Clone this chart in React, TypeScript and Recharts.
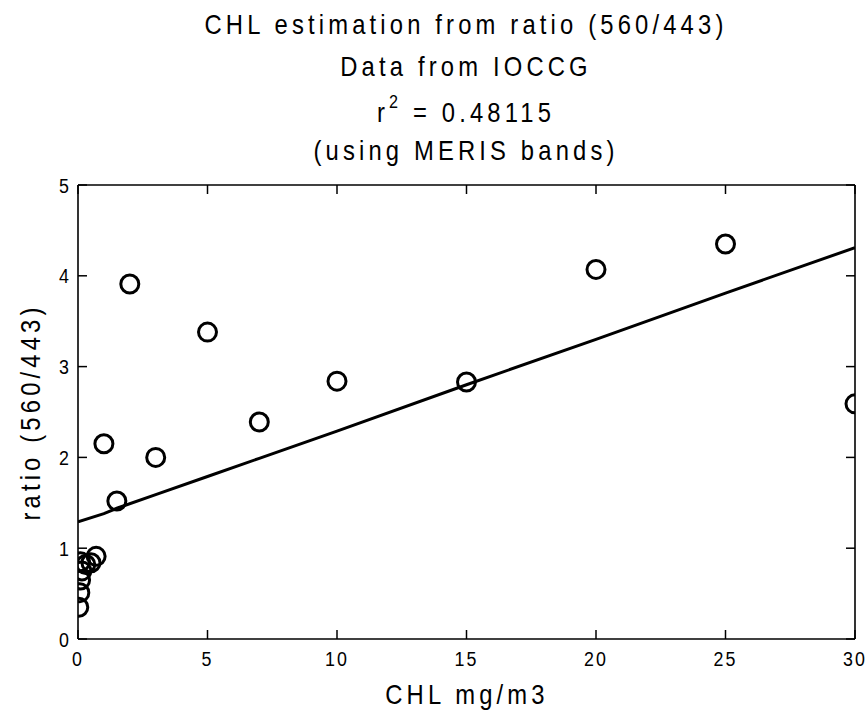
import React from "react";
import { ScatterChart, Scatter, XAxis, YAxis } from "recharts";

// measured samples (CHL mg/m3 vs ratio 560/443)
const chlValues = [0.03, 0.07, 0.1, 0.15, 0.1, 0.3, 0.5, 0.7, 1, 1.5, 2, 3, 5, 7, 10, 15, 20, 25, 30];
const ratioValues = [0.35, 0.51, 0.65, 0.75, 0.85, 0.82, 0.84, 0.91, 2.15, 1.52, 3.91, 2.0, 3.38, 2.39, 2.84, 2.83, 4.07, 4.35, 2.59];

// fitted line
const fitChl = [0, 1, 1.5, 3, 5, 7, 10, 15, 20, 25, 30];
const fitRatio = [1.29, 1.38, 1.44, 1.59, 1.79, 1.99, 2.29, 2.8, 3.3, 3.81, 4.31];

const xTicks = [0, 5, 10, 15, 20, 25, 30];
const yTicks = [0, 1, 2, 3, 4, 5];

const points = chlValues.map((x, i) => ({ x, y: ratioValues[i] }));
const fit = fitChl.map((x, i) => ({ x, y: fitRatio[i] }));

const font = "'Liberation Sans', Arial, sans-serif";
const SX = 0.85; // narrow, spaced-out look of the original
const TICK = 9; // inward tick length
const TW = 1.5;

const Ring = (props: any) => (
  <circle cx={props.cx} cy={props.cy} r={9} fill="none" stroke="#000" strokeWidth={3} />
);

// ticks point into the plot (matlab style), so the tick renderers draw the marks themselves
const BottomTick = (props: any) => (
  <g>
    <line x1={props.x} x2={props.x} y1={props.y - 12} y2={props.y - 12 - TICK} stroke="#000" strokeWidth={TW} />
    <g transform={`translate(${props.x} ${props.y + 15}) scale(${SX} 1)`}>
      <text x={0} y={0} textAnchor="middle" fontSize={21} letterSpacing={2.5} fontFamily={font} fill="#000">
        {props.payload.value}
      </text>
    </g>
  </g>
);

const LeftTick = (props: any) => (
  <g>
    <line x1={props.x + 9} x2={props.x + 9 + TICK} y1={props.y} y2={props.y} stroke="#000" strokeWidth={TW} />
    <g transform={`translate(${props.x} ${props.y + 7.5}) scale(${SX} 1)`}>
      <text x={0} y={0} textAnchor="end" fontSize={21} fontFamily={font} fill="#000">
        {props.payload.value}
      </text>
    </g>
  </g>
);

const TopTick = (props: any) => (
  <line x1={props.x} x2={props.x} y1={props.y} y2={props.y + TICK} stroke="#000" strokeWidth={TW} />
);

const RightTick = (props: any) => (
  <line x1={props.x} x2={props.x - TICK} y1={props.y} y2={props.y} stroke="#000" strokeWidth={TW} />
);

// centred label, squeezed horizontally like the original font
function Label(p: { x: number; y: number; rotate?: number; children: React.ReactNode }) {
  return (
    <g transform={`translate(${p.x} ${p.y}) rotate(${p.rotate || 0}) scale(${SX} 1)`}>
      <text x={0} y={0} textAnchor="middle" fontSize={28} letterSpacing={4.9} fontFamily={font} fill="#000">
        {p.children}
      </text>
    </g>
  );
}

export default function App() {
  return (
    <div style={{ position: "absolute", left: 0, top: 0, width: 867, height: 712, background: "#fff" }}>
      <ScatterChart width={867} height={712} margin={{ top: 184, right: 11, bottom: 0, left: 0 }}>
        <XAxis
          type="number"
          dataKey="x"
          domain={[0, 30]}
          ticks={xTicks}
          height={73}
          tickSize={0}
          tickMargin={12}
          tickLine={false}
          tick={<BottomTick />}
          stroke="#000"
          strokeWidth={1.6}
          allowDataOverflow
        />
        <XAxis
          xAxisId="top"
          orientation="top"
          type="number"
          dataKey="x"
          domain={[0, 30]}
          ticks={xTicks}
          height={1}
          tickSize={0}
          tickMargin={0}
          tickLine={false}
          tick={<TopTick />}
          stroke="#000"
          strokeWidth={1.6}
          allowDataOverflow
        />
        <YAxis
          type="number"
          dataKey="y"
          domain={[0, 5]}
          ticks={yTicks}
          width={78}
          tickSize={0}
          tickMargin={9}
          tickLine={false}
          tick={<LeftTick />}
          stroke="#000"
          strokeWidth={1.6}
          allowDataOverflow
        />
        <YAxis
          yAxisId="right"
          orientation="right"
          type="number"
          dataKey="y"
          domain={[0, 5]}
          ticks={yTicks}
          width={1}
          tickSize={0}
          tickMargin={0}
          tickLine={false}
          tick={<RightTick />}
          stroke="#000"
          strokeWidth={1.6}
          allowDataOverflow
        />
        <Scatter
          data={fit}
          xAxisId="top"
          yAxisId="right"
          line={{ stroke: "#000", strokeWidth: 3 }}
          shape={() => <g />}
          isAnimationActive={false}
        />
        <Scatter data={points} shape={<Ring />} isAnimationActive={false} />
      </ScatterChart>
      <svg width={867} height={712} style={{ position: "absolute", left: 0, top: 0, pointerEvents: "none" }}>
        <Label x={466} y={34}>CHL estimation from ratio (560/443)</Label>
        <Label x={466} y={76}>Data from IOCCG</Label>
        <Label x={466} y={122}>
          r<tspan fontSize={19} dy={-14}>2</tspan>
          <tspan dy={14}> = 0.48115</tspan>
        </Label>
        <Label x={466} y={160}>(using MERIS bands)</Label>
        <Label x={467} y={704}>CHL mg/m3</Label>
        <Label x={40} y={412} rotate={-90}>ratio (560/443)</Label>
      </svg>
    </div>
  );
}
